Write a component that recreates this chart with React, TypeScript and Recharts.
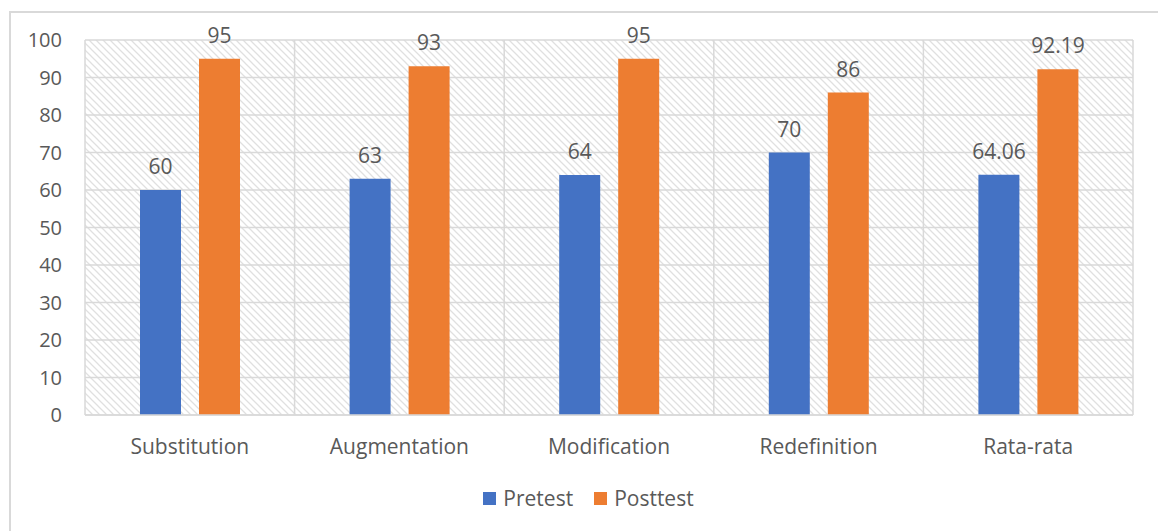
import { Bar, BarChart, CartesianGrid, LabelList, Legend, XAxis, YAxis } from "recharts"

const categories = ["Substitution", "Augmentation", "Modification", "Redefinition", "Rata-rata"]
const pretest = [60, 63, 64, 70, 64.06]
const posttest = [95, 93, 95, 86, 92.19]
const yTicks = [0, 10, 20, 30, 40, 50, 60, 70, 80, 90, 100]
const seriesNames = ["Pretest", "Posttest"]
const seriesColors = ["#4472c4", "#ed7d31"]

const data = categories.map((name, i) => ({ name, Pretest: pretest[i], Posttest: posttest[i] }))

const TEXT = "#595959"
const GRID = "#d9d9d9"
const FONT = "'Open Sans', sans-serif"

// grid lines sit on the category boundaries, not the centres
const boundaries = ({ offset }: any) =>
  categories.map((_, i) => offset.left + (offset.width * i) / categories.length).concat(offset.left + offset.width)

function LegendContent() {
  return (
    <div
      style={{
        display: "flex",
        justifyContent: "center",
        alignItems: "center",
        paddingLeft: 44,
        fontSize: 21,
        fontFamily: FONT,
        color: TEXT,
      }}
    >
      {seriesNames.map((name, i) => (
        <div key={name} style={{ display: "flex", alignItems: "center", marginRight: i === 0 ? 21 : 0 }}>
          <span style={{ width: 13, height: 13, background: seriesColors[i], marginRight: 7, display: "inline-block" }} />
          <span>{name}</span>
        </div>
      ))}
    </div>
  )
}

export default function App() {
  return (
    <div style={{ position: "absolute", left: 0, top: 0, width: 1158, height: 531, background: "#fff", overflow: "hidden" }}>
      <div
        style={{
          position: "absolute",
          left: 9,
          top: 11,
          width: 1200,
          height: 600,
          borderLeft: `2px solid ${GRID}`,
          borderTop: `2px solid ${GRID}`,
        }}
      />
      <BarChart
        width={1158}
        height={531}
        data={data}
        margin={{ top: 40, right: 25, bottom: 0, left: 0 }}
        barSize={41}
        barGap={18}
        style={{ position: "absolute", left: 0, top: 0, fontFamily: FONT }}
      >
        <defs>
          <pattern id="hatch" patternUnits="userSpaceOnUse" width="7" height="7">
            <path d="M0,0 L7,7 M-1,6 L1,8 M6,-1 L8,1" stroke="#e0e0e0" strokeWidth="1.3" />
          </pattern>
        </defs>
        <CartesianGrid
          fill="url(#hatch)"
          fillOpacity={1}
          stroke={GRID}
          strokeWidth={1.5}
          verticalCoordinatesGenerator={boundaries}
        />
        <XAxis
          dataKey="name"
          height={116}
          axisLine={{ stroke: GRID, strokeWidth: 1.5 }}
          tickLine={false}
          tickSize={0}
          tickMargin={24}
          tick={{ fill: TEXT, fontSize: 21, fontFamily: FONT }}
        />
        <YAxis
          width={85}
          domain={[0, 100]}
          ticks={yTicks}
          axisLine={false}
          tickLine={false}
          tickSize={0}
          tickMargin={23}
          tick={{ fill: TEXT, fontSize: 20, fontFamily: FONT }}
        />
        <Legend verticalAlign="middle" align="center" wrapperStyle={{ top: 484 }} content={LegendContent} />
        <Bar dataKey="Pretest" fill={seriesColors[0]} isAnimationActive={false}>
          <LabelList dataKey="Pretest" position="top" offset={16} fill={TEXT} fontSize={21} fontFamily={FONT} />
        </Bar>
        <Bar dataKey="Posttest" fill={seriesColors[1]} isAnimationActive={false}>
          <LabelList dataKey="Posttest" position="top" offset={16} fill={TEXT} fontSize={21} fontFamily={FONT} />
        </Bar>
      </BarChart>
    </div>
  )
}
